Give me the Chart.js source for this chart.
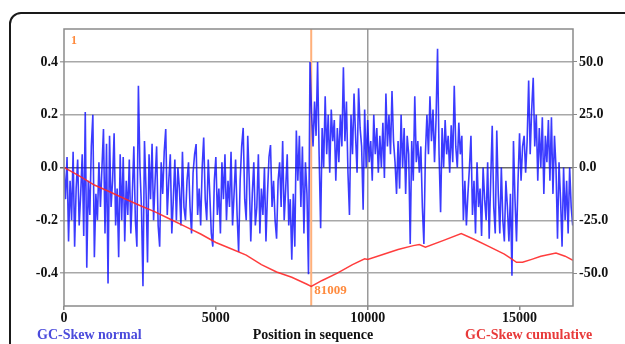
<!DOCTYPE html>
<html>
<head>
<meta charset="utf-8">
<script src="https://cdn.jsdelivr.net/npm/chart.js@4/dist/chart.umd.min.js"></script>
<style>
  html, body { margin: 0; padding: 0; background: #fff; overflow: hidden; }
  #wrap { position: relative; width: 625px; height: 344px; }
  #card {
    position: absolute; left: 9px; top: 12px; width: 700px; height: 420px;
    border: 2px solid #1a1a1a; border-radius: 12px; box-sizing: border-box;
  }
  #myChart { position: absolute; left: 0; top: 0; }
</style>
</head>
<body>
<div id="wrap">
  <div id="card"></div>
  <canvas id="myChart" width="625" height="344"></canvas>
</div>
<script>
// GC-skew per window, one value every skewStep bases
const skewStep = 50;
const skewNormal = [
  0.0, -0.12, 0.04, -0.28, -0.05, -0.2, 0.06, -0.3, -0.08, 0.03,
  -0.22, -0.1, 0.05, -0.26, 0.21, -0.38, -0.05, -0.18, 0.08, 0.2,
  -0.34, -0.1, -0.2, 0.02, -0.15, 0.0, 0.146, -0.25, 0.09, -0.44,
  0.12, -0.15, -0.05, 0.13, -0.22, -0.08, -0.34, 0.05, -0.2, 0.04,
  -0.28, -0.05, -0.18, 0.03, -0.25, -0.1, 0.08, -0.2, -0.3, 0.31,
  0.0, -0.15, -0.45, 0.1, -0.08, -0.36, 0.05, -0.12, 0.09, -0.2,
  -0.05, 0.08, -0.22, -0.3, 0.02, -0.1, 0.06, 0.146, -0.18, -0.05,
  0.05, -0.25, -0.12, 0.03, -0.2, 0.0, -0.08, -0.22, 0.06, -0.15,
  -0.2, -0.05, 0.02, -0.15, -0.25, -0.02, 0.05, 0.089, -0.18, -0.08,
  -0.22, 0.0, 0.114, -0.12, -0.2, 0.03, -0.1, -0.25, -0.3, -0.05,
  0.04, -0.18, -0.08, -0.25, 0.02, -0.12, 0.05, -0.2, -0.05, -0.15,
  0.06, -0.22, -0.1, 0.03, -0.18, -0.32, -0.05, 0.08, 0.15, -0.12,
  -0.2, 0.12, -0.05, -0.28, -0.1, 0.02, -0.22, -0.15, 0.05, -0.25,
  -0.08, -0.18, 0.0, -0.28, -0.1, 0.04, 0.085, -0.15, -0.05, -0.2,
  -0.27, -0.05, 0.02, -0.15, 0.1, -0.2, -0.08, 0.05, -0.22, -0.12,
  -0.35, -0.1, -0.3, 0.14, -0.05, 0.12, -0.15, 0.08, -0.25, 0.02,
  -0.1, -0.405, 0.4, 0.21, 0.08, 0.25, 0.12, 0.4, 0.05, -0.23,
  0.15, 0.0, 0.27, 0.05, 0.2, -0.02, 0.22, 0.1, 0.18, -0.05,
  0.15, 0.02, 0.2, 0.08, 0.38, 0.1, 0.25, -0.02, -0.18, 0.2,
  0.05, 0.28, 0.12, -0.02, 0.3, 0.15, 0.08, -0.16, 0.22, 0.0,
  0.18, 0.02, 0.1, -0.05, 0.2, 0.05, 0.15, -0.02, 0.12, 0.0,
  0.17, -0.04, 0.28, 0.08, 0.2, 0.05, 0.29, 0.1, 0.02, -0.1,
  0.1, -0.08, 0.2, 0.0, 0.15, -0.1, 0.12, 0.05, -0.29, 0.1,
  -0.05, 0.27, 0.02, 0.1, -0.02, 0.08, -0.15, -0.29, 0.05, 0.2,
  0.05, 0.27, 0.1, 0.22, 0.02, 0.18, 0.45, 0.05, -0.17, 0.15,
  0.0, 0.18, 0.05, 0.12, -0.02, 0.16, 0.02, 0.31, 0.08, 0.0,
  0.17, 0.05, 0.12, -0.2, -0.05, -0.22, -0.1, 0.0, 0.12, -0.18,
  -0.05, -0.25, 0.02, -0.15, -0.08, -0.26, 0.0, -0.12, -0.2, 0.02,
  -0.27, -0.05, 0.158, -0.15, -0.25, 0.14, -0.1, -0.25, 0.0, -0.2,
  -0.28, -0.05, -0.15, -0.28, -0.1, -0.41, 0.1, -0.12, -0.28, -0.05,
  0.13, -0.05, 0.08, 0.12, -0.02, 0.1, 0.33, 0.05, 0.22, 0.34,
  0.08, 0.2, -0.05, 0.15, 0.0, 0.19, -0.1, 0.12, 0.02, 0.18,
  -0.05, 0.19, -0.1, 0.12, 0.0, -0.27, 0.02, -0.12, -0.3, 0.0,
  -0.2, -0.05, -0.25, 0.0, -0.15, -0.22
];

// cumulative skew, read at its turning points
const cumPositions = [0, 500, 1000, 1500, 2000, 2500, 3000, 3500, 4000, 4500,
  5000, 5500, 6000, 6500, 7000, 7500, 8000, 8140, 8500, 9000, 9500, 9900,
  10000, 10500, 11000, 11500, 11700, 11900, 12500, 13080, 13500, 14000,
  14500, 14700, 14900, 15100, 15400, 15700, 16200, 16500, 16760];
const cumValues = [0, -4, -8.3, -11.5, -14.8, -18, -21, -24.5, -28, -31.5,
  -35.5, -38.5, -41.5, -46, -49.5, -52, -55.3, -56.3, -53.5, -50, -46, -43.2,
  -43.6, -41.2, -38.8, -37, -36.5, -37.7, -34.5, -31.3, -34, -37.5,
  -41, -42.9, -44.9, -44.9, -43.5, -42, -40.5, -42, -44];

const xTicks = [0, 5000, 10000, 15000];
const leftTicks = [-0.4, -0.2, 0, 0.2, 0.4];
const rightTicks = [-50, -25, 0, 25, 50];
const seqLength = 16760;
const originPos = 8140;
const originText = "81009";

const tickFont = { family: "Liberation Serif", size: 14, weight: "bold" };

const overlay = {
  id: "overlay",
  beforeDatasetsDraw(chart) {
    const { ctx, chartArea: a, scales } = chart;
    const px = scales.x.getPixelForValue(originPos);
    ctx.save();
    ctx.strokeStyle = "#ffb07a";
    ctx.lineWidth = 2;
    ctx.beginPath();
    ctx.moveTo(px, a.top);
    ctx.lineTo(px, a.bottom);
    ctx.stroke();
    ctx.restore();
  },
  afterDraw(chart) {
    const { ctx, chartArea: a, scales } = chart;
    const px = scales.x.getPixelForValue(originPos);
    ctx.save();
    ctx.strokeStyle = "#8a8a8a";
    ctx.lineWidth = 1.5;
    ctx.strokeRect(a.left, a.top, a.right - a.left, a.bottom - a.top);

    ctx.textBaseline = "middle";
    ctx.fillStyle = "#ff8a3d";
    ctx.font = 'bold 12px "Liberation Serif"';
    ctx.textAlign = "left";
    ctx.fillText("1", a.left + 7, a.top + 12);
    ctx.font = 'bold 13px "Liberation Serif"';
    ctx.fillText(originText, px + 3, a.bottom - 15);

    ctx.font = 'bold 14px "Liberation Serif"';
    ctx.fillStyle = "#4b4bdc";
    ctx.fillText("GC-Skew normal", 37, 335);
    ctx.fillStyle = "#e83a3a";
    ctx.fillText("GC-Skew cumulative", 465, 335);
    ctx.fillStyle = "#111";
    ctx.textAlign = "center";
    ctx.fillText("Position in sequence", 313, 335);
    ctx.restore();
  },
};

const ctx = document.getElementById("myChart").getContext("2d");

const myChart = new Chart(ctx, {
  type: "line",
  data: {
    datasets: [
      {
        label: "GC-Skew cumulative",
        data: cumPositions.map((p, i) => ({ x: p, y: cumValues[i] })),
        yAxisID: "y2",
        borderColor: "rgba(255, 40, 40, 0.9)",
        borderWidth: 1.5,
        pointRadius: 0,
        tension: 0,
        order: 0,
      },
      {
        label: "GC-Skew normal",
        data: skewNormal.map((v, i) => ({ x: i * skewStep, y: v })),
        yAxisID: "y",
        borderColor: "rgba(10, 10, 255, 0.8)",
        borderWidth: 1.6,
        pointRadius: 0,
        tension: 0,
        order: 1,
      },
    ],
  },
  options: {
    responsive: false,
    animation: false,
    layout: { padding: { top: 29, left: 0, right: 0, bottom: 0 } },
    plugins: { legend: { display: false }, tooltip: { enabled: false } },
    scales: {
      x: {
        type: "linear",
        min: 0,
        max: seqLength,
        afterBuildTicks: (s) => { s.ticks = xTicks.map((v) => ({ value: v })); },
        afterFit: (s) => { s.height = 38; },
        border: { display: false },
        grid: {
          color: (c) => (c.tick && c.tick.value === 10000 ? "#9a9a9a" : "rgba(0,0,0,0)"),
          tickColor: "#8a8a8a",
          lineWidth: 1.5,
          tickLength: 4,
        },
        ticks: {
          color: "#111",
          font: tickFont,
          padding: 0,
          maxRotation: 0,
          callback: (v) => String(v),
        },
      },
      y: {
        position: "left",
        min: -0.525,
        max: 0.525,
        afterBuildTicks: (s) => { s.ticks = leftTicks.map((v) => ({ value: v })); },
        afterFit: (s) => { s.width = 64; },
        border: { display: false },
        grid: {
          color: (c) => (c.tick && c.tick.value === 0 ? "#6a6a6a" : "#a8a8a8"),
          lineWidth: 1.5,
          tickLength: 4,
        },
        ticks: {
          color: "#111",
          font: tickFont,
          padding: 2,
          callback: (v) => Number(v).toFixed(1),
        },
      },
      y2: {
        position: "right",
        min: -65.6,
        max: 65.6,
        afterBuildTicks: (s) => { s.ticks = rightTicks.map((v) => ({ value: v })); },
        afterFit: (s) => { s.width = 52; },
        border: { display: false },
        grid: { drawOnChartArea: false, color: "#8a8a8a", tickLength: 4 },
        ticks: {
          color: "#111",
          font: tickFont,
          padding: 2,
          callback: (v) => Number(v).toFixed(1),
        },
      },
    },
  },
  plugins: [overlay],
});
</script>
</body>
</html>
